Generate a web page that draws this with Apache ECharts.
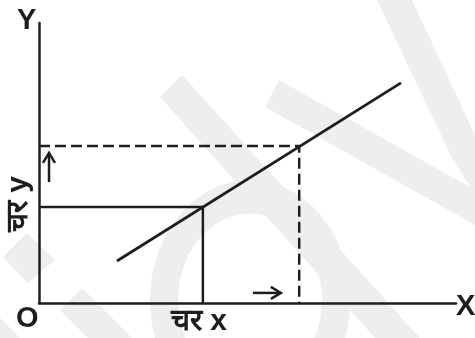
<!DOCTYPE html>
<html>
<head>
<meta charset="utf-8">
<script src="https://cdn.jsdelivr.net/npm/echarts@6/dist/echarts.min.js"></script>
<style>
  html, body { margin: 0; padding: 0; background: #fff; }
  #chart { width: 475px; height: 338px; }
</style>
</head>
<body>
<div id="chart"></div>
<script>
// values on a 0..100 scale for both variables
var lineX = [18.7, 86.8];
var lineY = [15.0, 78.6];
var pointA = [39.3, 34.3];   // solid guide
var pointB = [62.4, 56.1];   // dashed guide
// arrows: [x0, y0, x1, y1]
var arrows = [
    [51.3, 3.6, 58.0, 3.6],
    [2.4, 43.2, 2.4, 53.6]
];

var ink = '#1e1e1e';
var wm = '#eeeeee';
var font = '"Liberation Sans", Arial, sans-serif';

var chart = echarts.init(document.getElementById('chart'));

var option = {
    backgroundColor: '#fff',
    animation: false,
    grid: { left: 39, right: 19, top: 23, bottom: 35, containLabel: false, outerBoundsMode: 'none' },
    xAxis: {
        type: 'value', min: 0, max: 100,
        axisLine: { onZero: false, lineStyle: { color: ink, width: 2.5 } },
        axisTick: { show: false }, axisLabel: { show: false }, splitLine: { show: false }
    },
    yAxis: {
        type: 'value', min: 0, max: 100,
        axisLine: { show: true, onZero: false, lineStyle: { color: ink, width: 2.5 } },
        axisTick: { show: false }, axisLabel: { show: false }, splitLine: { show: false }
    },
    graphic: [
        // faint watermark behind the drawing
        { type: 'polygon', z: -10, silent: true, shape: { points: [[160, 97], [182, 75], [420, 338], [375, 338]] }, style: { fill: wm } },
        { type: 'ring', z: -10, silent: true, shape: { cx: 250, cy: 300, r: 100, r0: 72 }, scaleY: 1.2, originX: 250, originY: 300, style: { fill: wm } },
        { type: 'polygon', z: -10, silent: true, shape: { points: [[265, 107], [279, 80], [475, 190], [475, 225]] }, style: { fill: wm } },
        { type: 'polygon', z: -10, silent: true, shape: { points: [[377, 0], [412, 0], [475, 135], [475, 195], [452, 158]] }, style: { fill: wm } },
        { type: 'polygon', z: -10, silent: true, shape: { points: [[3, 257], [27, 233], [55, 260], [28, 283]] }, style: { fill: wm } },
        { type: 'polygon', z: -10, silent: true, shape: { points: [[60, 310], [82, 288], [132, 338], [88, 338]] }, style: { fill: wm } },
        { type: 'polygon', z: -10, silent: true, shape: { points: [[0, 318], [20, 338], [0, 338]] }, style: { fill: wm } },
        // labels
        { type: 'text', left: 17, top: 6, style: { text: 'Y', fill: ink, font: 'bold 29px ' + font } },
        { type: 'text', left: 456, top: 292, style: { text: 'X', fill: ink, font: 'bold 29px ' + font } },
        { type: 'text', left: 16, top: 304, style: { text: 'O', fill: ink, font: 'bold 29px ' + font } },
        { type: 'text', x: 199, y: 322, style: { text: 'चर x', fill: ink, font: 'bold 30px ' + font, align: 'center', verticalAlign: 'middle' } },
        { type: 'text', x: 19, y: 204, rotation: Math.PI / 2, style: { text: 'चर y', fill: ink, font: 'bold 30px ' + font, align: 'center', verticalAlign: 'middle' } }
    ],
    series: [
        {
            type: 'line', symbol: 'none',
            data: [[lineX[0], lineY[0]], [lineX[1], lineY[1]]],
            lineStyle: { color: ink, width: 2.8 }
        },
        {
            type: 'line', symbol: 'none',
            data: [[0, pointA[1]], pointA, [pointA[0], 0]],
            lineStyle: { color: ink, width: 2.5 }
        },
        {
            type: 'line', symbol: 'none',
            data: [[0, pointB[1]], pointB, [pointB[0], 0]],
            lineStyle: { color: ink, width: 2.5, type: [11, 5] }
        },
        {
            type: 'custom',
            data: arrows,
            renderItem: function (params, api) {
                var p0 = api.coord([api.value(0), api.value(1)]);
                var p1 = api.coord([api.value(2), api.value(3)]);
                var dx = p1[0] - p0[0], dy = p1[1] - p0[1];
                var len = Math.sqrt(dx * dx + dy * dy);
                var ux = dx / len, uy = dy / len;
                var back = 10, side = 6;
                var h1 = [p1[0] - ux * back - uy * side, p1[1] - uy * back + ux * side];
                var h2 = [p1[0] - ux * back + uy * side, p1[1] - uy * back - ux * side];
                var st = { stroke: ink, lineWidth: 2.5, fill: null };
                return {
                    type: 'group',
                    children: [
                        { type: 'line', shape: { x1: p0[0], y1: p0[1], x2: p1[0], y2: p1[1] }, style: st },
                        { type: 'polyline', shape: { points: [h1, p1, h2] }, style: st }
                    ]
                };
            }
        }
    ]
};

chart.setOption(option);
window.addEventListener('resize', function () {
    chart.resize();
});
</script>
</body>
</html>
